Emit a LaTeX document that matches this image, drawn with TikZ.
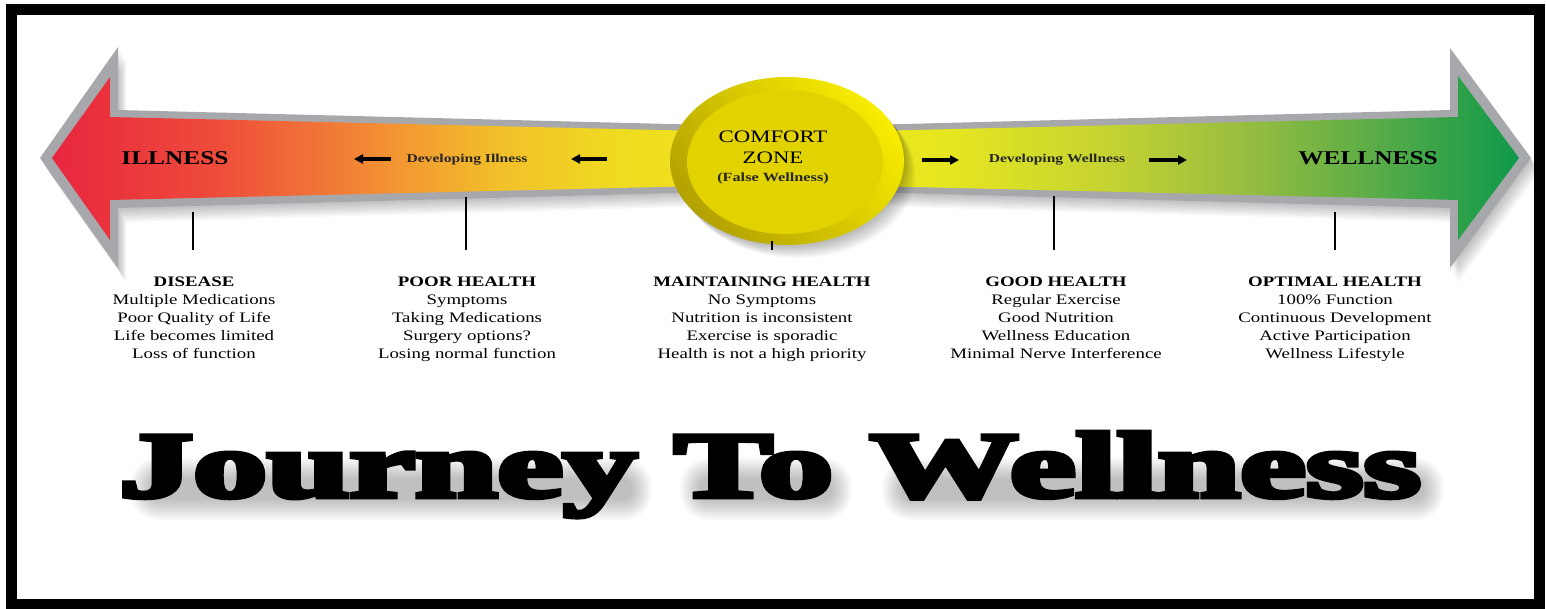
\documentclass[tikz,border=0pt]{standalone}
\usepackage{fontspec}
\setmainfont{Liberation Serif}[FakeStretch=1.3]
\newfontfamily\titlefont{Liberation Serif Bold}[RawFeature={embolden=5}]
\usepackage{graphicx}
\usetikzlibrary{arrows.meta}
\definecolor{c1}{HTML}{E8263F}
\definecolor{c2}{HTML}{EE4A3A}
\definecolor{c3}{HTML}{F07038}
\definecolor{c4}{HTML}{F39A32}
\definecolor{c5}{HTML}{F2C12A}
\definecolor{c6}{HTML}{EFDC20}
\definecolor{c7}{HTML}{F0E619}
\definecolor{c8}{HTML}{E6E620}
\definecolor{c9}{HTML}{C8D530}
\definecolor{c10}{HTML}{9ABE40}
\definecolor{c11}{HTML}{52AA48}
\definecolor{c12}{HTML}{0E994A}
\definecolor{bevel}{HTML}{A6A8AB}
\definecolor{ringdark}{HTML}{B3A200}
\definecolor{ringlight}{HTML}{F8EC00}
\definecolor{zonefill}{HTML}{E1D200}
\pgfdeclarehorizontalshading{journey}{100bp}{color(0bp)=(c1); color(25bp)=(c1); color(30.4bp)=(c2); color(33.7bp)=(c3); color(37.1bp)=(c4); color(40.4bp)=(c5); color(44.4bp)=(c6); color(50bp)=(c7); color(55.5bp)=(c8); color(60.5bp)=(c9); color(65.5bp)=(c10); color(70.6bp)=(c11); color(75bp)=(c12); color(100bp)=(c12)}
\def\outerpath{(40,158) -- (118,47) -- (118,110) -- (787,127) -- (1450,110) -- (1450,48) -- (1531,158) -- (1450,268) -- (1450,208) -- (787,190) -- (118,208) -- (118,268) -- cycle}
\def\innerpath{(52,158) -- (110,77) -- (110,117) -- (787,133) -- (1458,117) -- (1458,76) -- (1519,158) -- (1458,240) -- (1458,200) -- (787,184) -- (110,200) -- (110,240) -- cycle}
\newcommand{\jtitle}{\resizebox{1300pt}{65pt}{\titlefont Journey To Wellness}}
\newcommand{\softblob}[4]{%
  \foreach \r in {0,2,...,20} {
    \fill[black, opacity=0.022, rounded corners=\r pt+8pt] (#1-\r,#2-\r) rectangle (#3+\r,#4+\r);
  }}
\tikzset{
  body/.style={align=center, inner sep=0pt, anchor=north, font=\fontsize{14.5}{18}\selectfont},
  tick/.style={line width=2.6pt, black},
  smallarrow/.style={line width=3.6pt, -{Triangle[length=9pt,width=9pt]}},
  devtext/.style={inner sep=0pt, font=\bfseries\fontsize{12}{14}\selectfont, text=black!85},
  endtext/.style={inner sep=0pt, font=\bfseries\fontsize{19.5}{22}\selectfont},
}
\begin{document}
\begin{tikzpicture}[x=1pt,y=-1pt]
\useasboundingbox (0,0) rectangle (1546,609);
\fill[white] (0,0) rectangle (1546,609);
% arrow shadow
\foreach \d in {2,4,...,14} {
  \fill[black, opacity=0.035, shift={(0.6*\d,\d)}] \outerpath;
}
% arrow
\fill[bevel] \outerpath;
\shade[shading=journey] \innerpath;
% circle shadow
\foreach \d in {2,4,...,16} {
  \fill[black, opacity=0.035] (787+0.7*\d,161+0.8*\d) ellipse [x radius=117, y radius=84];
}
% comfort zone
\shade[bottom color=ringdark, top color=ringlight, shading angle=-50] (787,161) ellipse [x radius=117, y radius=84];
\fill[zonefill] (785,162) ellipse [x radius=98, y radius=72];
\node[inner sep=0pt, font=\fontsize{17.5}{20}\selectfont] (comfort) at (773,137) {COMFORT};
\node[inner sep=0pt, font=\fontsize{17.5}{20}\selectfont] (zone) at (773,158) {ZONE};
\node[inner sep=0pt, font=\bfseries\fontsize{12.5}{14}\selectfont, text=black!85] (false) at (773,178) {(False Wellness)};
% end labels
\node[endtext] (illness) at (175,158) {ILLNESS};
\node[endtext] (wellness) at (1368,158) {WELLNESS};
\node[devtext] (devill) at (467,160) {Developing Illness};
\node[devtext] (devwell) at (1057,160) {Developing Wellness};
% small arrows
\coordinate (a1s) at (391,159); \coordinate (a1e) at (354,159);
\coordinate (a2s) at (607,159); \coordinate (a2e) at (571,159);
\coordinate (a3s) at (922,160); \coordinate (a3e) at (959,160);
\coordinate (a4s) at (1149,160); \coordinate (a4e) at (1187,160);
\draw[smallarrow] (a1s) -- (a1e);
\draw[smallarrow] (a2s) -- (a2e);
\draw[smallarrow] (a3s) -- (a3e);
\draw[smallarrow] (a4s) -- (a4e);
% ticks
\draw[tick] (193,212) -- (193,250);
\draw[tick] (466,197) -- (466,250);
\draw[tick] (772,241) -- (772,250);
\draw[tick] (1054,196) -- (1054,250);
\draw[tick] (1335,212) -- (1335,250);
% text blocks
\node[body] (disease) at (194,277) {\textbf{DISEASE}\\Multiple Medications\\Poor Quality of Life\\Life becomes limited\\Loss of function};
\node[body] (poor) at (467,277) {\textbf{POOR HEALTH}\\Symptoms\\Taking Medications\\Surgery options?\\Losing normal function};
\node[body] (maint) at (762,277) {\textbf{MAINTAINING HEALTH}\\No Symptoms\\Nutrition is inconsistent\\Exercise is sporadic\\Health is not a high priority};
\node[body] (good) at (1056,277) {\textbf{GOOD HEALTH}\\Regular Exercise\\Good Nutrition\\Wellness Education\\Minimal Nerve Interference};
\node[body] (optimal) at (1335,277) {\textbf{OPTIMAL HEALTH}\\100\% Function\\Continuous Development\\Active Participation\\Wellness Lifestyle};
% title shadow (soft blobs behind each word)
\softblob{150}{478}{632}{500}
\softblob{700}{478}{832}{500}
\softblob{902}{478}{1424}{500}
\node[inner sep=0pt, anchor=base] (title) at (770,497) {\jtitle};
% frame
\draw[line width=11pt, black] (11,9.5) rectangle (1539.5,604.5);
\end{tikzpicture}
\end{document}
